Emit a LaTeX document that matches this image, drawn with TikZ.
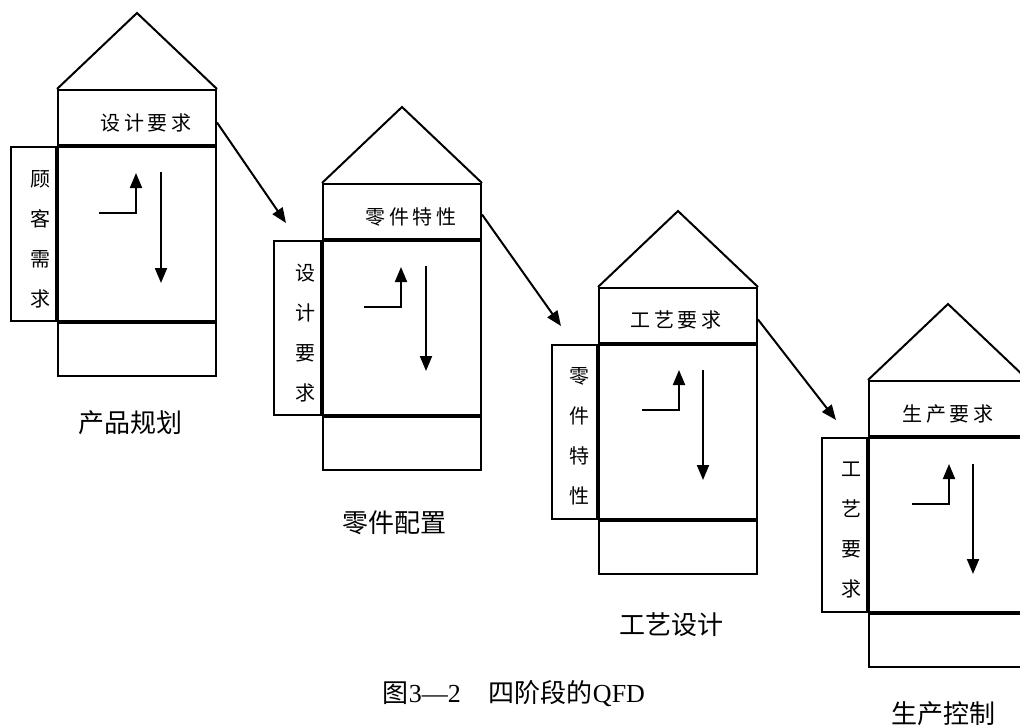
\documentclass[tikz,border=0pt]{standalone}
\usepackage{fontspec}
\setmainfont{Liberation Serif}
\newfontfamily\cjk{Noto Sans CJK SC}
\newfontfamily\cjkls{Noto Sans CJK SC}[LetterSpace=17]
\usetikzlibrary{arrows.meta,calc}
\begin{document}
\begin{tikzpicture}[x=1pt,y=-1pt,
  lw/.style={line width=2pt},
  cell/.style={draw,lw,inner sep=0pt,minimum width=158pt},
  hdr/.style={cell,minimum height=55pt},
  body/.style={cell,minimum height=174pt},
  foot/.style={cell,minimum height=53pt},
  side/.style={draw,lw,inner sep=0pt,minimum height=174pt,minimum width=#1},
  roof/.style={draw,lw,line join=miter},
  htext/.style={inner sep=0pt,font=\cjkls\fontsize{20}{24}\selectfont},
  vtext/.style={inner sep=0pt,align=center,font=\cjk\fontsize{20}{40}\selectfont},
  lbl/.style={inner sep=0pt,font=\cjk\fontsize{26}{30}\selectfont},
  arr/.style={line width=2pt,-{Triangle[length=15pt,width=12pt]}},
  conn/.style={line width=2pt,-{Triangle[length=15pt,width=12pt]}}
]
\clip (0,0) rectangle (1020,726);
\fill[white] (0,0) rectangle (1020,726);

% ---------- unit 1 ----------
\node[hdr,anchor=north west] (h1) at (57,89) {};
\node[body,anchor=north] (b1) at (h1.south) {};
\node[foot,anchor=north] (f1) at (b1.south) {};
\node[side=45pt,anchor=north east] (s1) at (b1.north west) {};
\coordinate (r1) at ($(h1.north)+(0,-76)$);
\draw[roof] (h1.north west) -- (r1) -- (h1.north east);
\node[htext] (t1) at ($(h1.center)+(9,5)$) {设计要求};
\node[vtext] (v1) at ($(s1.center)+(7,5)$) {顾\\客\\需\\求};
\draw[arr] ($(b1.north west)+(42,67)$) -| ($(b1.north west)+(79,27)$);
\draw[arr] ($(b1.north west)+(104,26)$) -- ($(b1.north west)+(104,137)$);
\node[lbl] (l1) at (130,423) {产品规划};

% ---------- unit 2 ----------
\node[hdr,anchor=north west] (h2) at (322,183) {};
\node[body,anchor=north] (b2) at (h2.south) {};
\node[foot,anchor=north] (f2) at (b2.south) {};
\node[side=47pt,anchor=north east] (s2) at (b2.north west) {};
\coordinate (r2) at ($(h2.north)+(0,-76)$);
\draw[roof] (h2.north west) -- (r2) -- (h2.north east);
\node[htext] (t2) at ($(h2.center)+(9,5)$) {零件特性};
\node[vtext] (v2) at ($(s2.center)+(8,5)$) {设\\计\\要\\求};
\draw[arr] ($(b2.north west)+(42,67)$) -| ($(b2.north west)+(79,27)$);
\draw[arr] ($(b2.north west)+(104,26)$) -- ($(b2.north west)+(104,131)$);
\node[lbl] (l2) at (394,523) {零件配置};

% ---------- unit 3 ----------
\node[hdr,anchor=north west] (h3) at (598,287) {};
\node[body,anchor=north] (b3) at (h3.south) {};
\node[foot,anchor=north] (f3) at (b3.south) {};
\node[side=45pt,anchor=north east] (s3) at (b3.north west) {};
\coordinate (r3) at ($(h3.north)+(0,-76)$);
\draw[roof] (h3.north west) -- (r3) -- (h3.north east);
\node[htext] (t3) at ($(h3.center)+(-2,4)$) {工艺要求};
\node[vtext] (v3) at ($(s3.center)+(5,4)$) {零\\件\\特\\性};
\draw[arr] ($(b3.north west)+(44,66)$) -| ($(b3.north west)+(81,26)$);
\draw[arr] ($(b3.north west)+(105,26)$) -- ($(b3.north west)+(105,136)$);
\node[lbl] (l3) at (671,625) {工艺设计};

% ---------- unit 4 ----------
\node[hdr,anchor=north west] (h4) at (868,380) {};
\node[body,anchor=north] (b4) at (h4.south) {};
\node[foot,anchor=north] (f4) at (b4.south) {};
\node[side=45pt,anchor=north east] (s4) at (b4.north west) {};
\coordinate (r4) at ($(h4.north)+(0,-76)$);
\draw[roof] (h4.north west) -- (r4) -- (h4.north east);
\node[htext] (t4) at ($(h4.center)+(0,5)$) {生产要求};
\node[vtext] (v4) at ($(s4.center)+(7,5)$) {工\\艺\\要\\求};
\draw[arr] ($(b4.north west)+(44,67)$) -| ($(b4.north west)+(81,27)$);
\draw[arr] ($(b4.north west)+(105,27)$) -- ($(b4.north west)+(105,137)$);
\node[lbl] (l4) at (943,714) {生产控制};

% ---------- connectors ----------
\coordinate (e1) at ($(s2.north west)+(13,-17)$);
\coordinate (e2) at ($(s3.north west)+(10,-18)$);
\coordinate (e3) at ($(s4.north west)+(15,-17)$);
\draw[conn] ($(h1.east)+(0,5)$) -- (e1);
\draw[conn] ($(h2.east)+(0,3)$) -- (e2);
\draw[conn] ($(h3.east)+(0,4)$) -- (e3);

% ---------- caption ----------
\node[inner sep=0pt,font=\fontsize{26}{30}\selectfont] (cap) at (514,694)
  {{\cjk 图}3—2\hspace{28pt}{\cjk 四阶段的}QFD};
\end{tikzpicture}
\end{document}
